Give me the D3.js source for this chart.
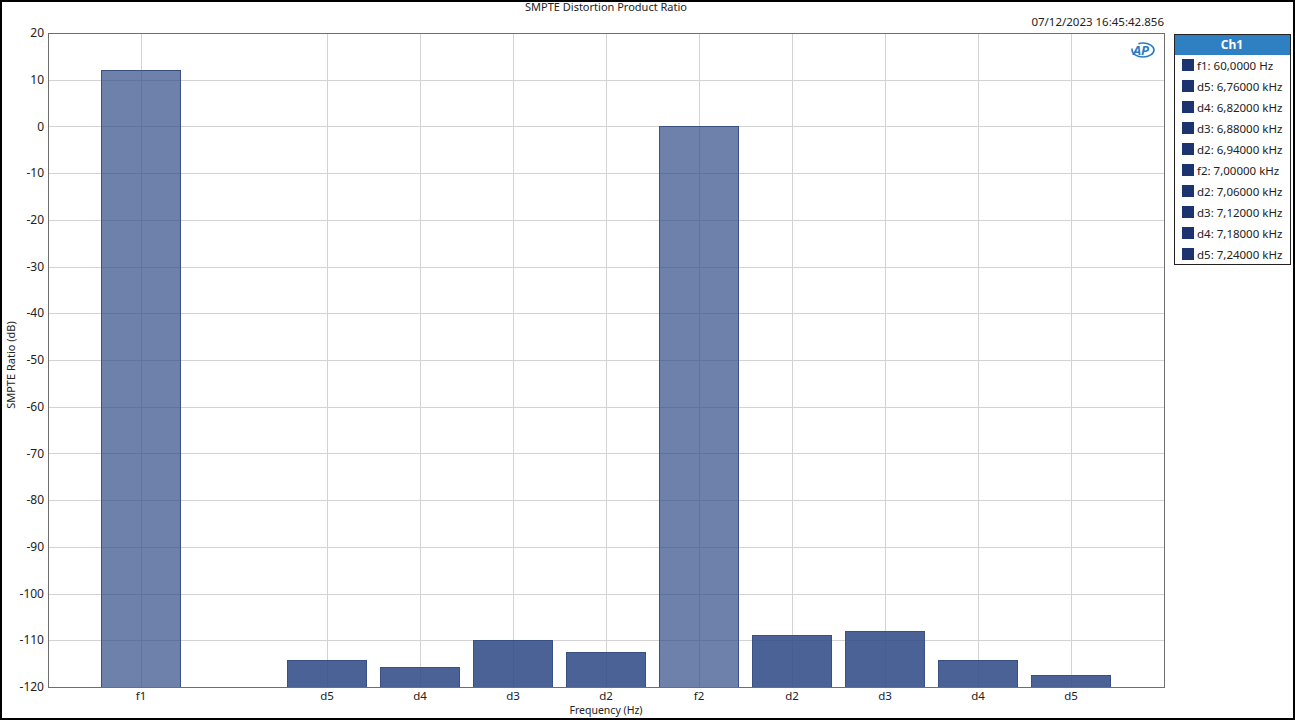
<!DOCTYPE html>
<html>
<head>
<meta charset="utf-8">
<script src="https://cdn.jsdelivr.net/npm/d3@7"></script>
<style>
  html, body { margin: 0; padding: 0; background: #fff; }
  svg { display: block; font-family: "Noto Sans", "Open Sans", sans-serif; }
</style>
</head>
<body>
<svg id="chart" width="1295" height="720"></svg>
<script>
// ---- data ----
const categories = ["f1", "", "d5", "d4", "d3", "d2", "f2", "d2", "d3", "d4", "d5"];
const values = [12.1, null, -114.2, -115.7, -110.0, -112.5, 0.0, -108.9, -108.0, -114.2, -117.4];
const yTicks = [20, 10, 0, -10, -20, -30, -40, -50, -60, -70, -80, -90, -100, -110, -120];
const legendLabels = ["f1: 60,0000 Hz", "d5: 6,76000 kHz", "d4: 6,82000 kHz", "d3: 6,88000 kHz",
  "d2: 6,94000 kHz", "f2: 7,00000 kHz", "d2: 7,06000 kHz", "d3: 7,12000 kHz",
  "d4: 7,18000 kHz", "d5: 7,24000 kHz"];
const title = "SMPTE Distortion Product Ratio";
const timestamp = "07/12/2023 16:45:42.856";
const xTitle = "Frequency (Hz)";
const yTitle = "SMPTE Ratio (dB)";
const legendTitle = "Ch1";

// ---- layout ----
const svg = d3.select("#chart");
const W = 1295, H = 720;
const plot = { left: 48, right: 1164, top: 33, bottom: 687 };

// outer frame
svg.append("rect").attr("x", 1).attr("y", 1).attr("width", W - 2).attr("height", H - 2)
  .attr("fill", "#fff").attr("stroke", "#000").attr("stroke-width", 2);

const idx = categories.map((d, i) => i);
const x = d3.scaleBand().domain(idx).range([plot.left, plot.right])
  .paddingInner(0.15).paddingOuter(0.575);
const y = d3.scaleLinear().domain([-120, 20]).range([plot.bottom, plot.top]);

// grid
const g = svg.append("g");
g.selectAll("line.hgrid").data(yTicks).join("line")
  .attr("x1", plot.left).attr("x2", plot.right)
  .attr("y1", d => Math.round(y(d)) + 0.5).attr("y2", d => Math.round(y(d)) + 0.5)
  .attr("stroke", "#d3d3d3").attr("stroke-width", 1);
g.selectAll("line.vgrid").data(idx.filter(i => categories[i] !== "")).join("line")
  .attr("x1", i => Math.round(x(i) + x.bandwidth() / 2) + 0.5)
  .attr("x2", i => Math.round(x(i) + x.bandwidth() / 2) + 0.5)
  .attr("y1", plot.top).attr("y2", plot.bottom)
  .attr("stroke", "#d3d3d3").attr("stroke-width", 1);

// bars
const barData = idx.filter(i => values[i] !== null);
svg.append("g").selectAll("rect").data(barData).join("rect")
  .attr("x", i => Math.round(x(i)) + 0.5)
  .attr("width", Math.round(x.bandwidth()))
  .attr("y", i => Math.round(y(values[i])) + 0.5)
  .attr("height", i => plot.bottom - Math.round(y(values[i])))
  .attr("fill", "rgb(49,76,136)")
  .attr("fill-opacity", i => categories[i].startsWith("f") ? 0.7 : 0.88)
  .attr("stroke", "#3a4f82").attr("stroke-width", 1);

// plot border
svg.append("rect").attr("x", plot.left + 0.5).attr("y", plot.top + 0.5)
  .attr("width", plot.right - plot.left).attr("height", plot.bottom - plot.top)
  .attr("fill", "none").attr("stroke", "#6e6e6e").attr("stroke-width", 1);

// y tick labels
svg.append("g").selectAll("text").data(yTicks).join("text")
  .attr("x", plot.left - 4).attr("y", d => y(d)).attr("dy", "0.35em")
  .attr("text-anchor", "end").attr("font-size", 12).attr("fill", "#222")
  .text(d => d);

// x tick labels
svg.append("g").selectAll("text").data(idx).join("text")
  .attr("x", i => x(i) + x.bandwidth() / 2).attr("y", plot.bottom + 13)
  .attr("text-anchor", "middle").attr("font-size", 11.5).attr("fill", "#222")
  .text(i => categories[i]);

// titles
svg.append("text").attr("x", (plot.left + plot.right) / 2).attr("y", 11)
  .attr("text-anchor", "middle").attr("font-size", 11).attr("fill", "#222").text(title);
svg.append("text").attr("x", plot.right).attr("y", 26)
  .attr("text-anchor", "end").attr("font-size", 11.5).attr("fill", "#222").text(timestamp);
svg.append("text").attr("x", (plot.left + plot.right) / 2).attr("y", 714)
  .attr("text-anchor", "middle").attr("font-size", 10.5).attr("fill", "#222").text(xTitle);
svg.append("text").attr("transform", `translate(15,${(plot.top + plot.bottom) / 2 + 5}) rotate(-90)`)
  .attr("text-anchor", "middle").attr("font-size", 11).attr("fill", "#222").text(yTitle);

// AP logo
const logo = svg.append("g").attr("transform", "translate(1141,50)");
logo.append("ellipse").attr("cx", 2).attr("cy", 0).attr("rx", 11).attr("ry", 7)
  .attr("fill", "none").attr("stroke", "#2b7bc4").attr("stroke-width", 1.6)
  .attr("stroke-dasharray", "30 8");
logo.append("text").attr("x", 0).attr("y", 5).attr("text-anchor", "middle")
  .attr("font-size", 13).attr("font-weight", "bold").attr("font-style", "italic")
  .attr("fill", "#2b7bc4").text("AP");

// legend
const lg = { x: 1174, y: 34, w: 116, headH: 21, rowH: 21 };
const legend = svg.append("g");
legend.append("rect").attr("x", lg.x + 0.5).attr("y", lg.y + 0.5)
  .attr("width", lg.w).attr("height", lg.headH + lg.rowH * legendLabels.length - 1)
  .attr("fill", "#fff").attr("stroke", "#222").attr("stroke-width", 1);
legend.append("rect").attr("x", lg.x + 1).attr("y", lg.y + 1)
  .attr("width", lg.w - 1).attr("height", lg.headH - 1).attr("fill", "#2f80c2");
legend.append("text").attr("x", lg.x + lg.w / 2).attr("y", lg.y + 15)
  .attr("text-anchor", "middle").attr("font-size", 12).attr("font-weight", "bold")
  .attr("fill", "#fff").text(legendTitle);
const rows = legend.selectAll("g.row").data(legendLabels).join("g")
  .attr("transform", (d, i) => `translate(${lg.x},${lg.y + lg.headH + 4 + i * lg.rowH})`);
rows.append("rect").attr("x", 8).attr("y", 0).attr("width", 12).attr("height", 12)
  .attr("fill", "#1b3470");
rows.append("text").attr("x", 23).attr("y", 10.5).attr("font-size", 11.5)
  .attr("fill", "#222").text(d => d);
</script>
</body>
</html>
